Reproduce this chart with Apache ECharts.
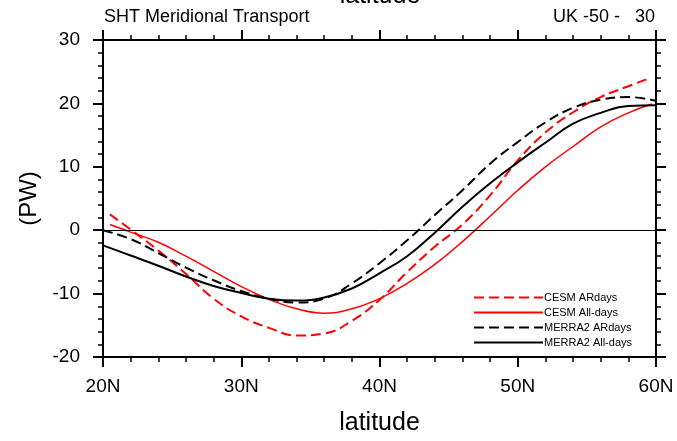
<!DOCTYPE html>
<html>
<head>
<meta charset="utf-8">
<script src="https://cdn.jsdelivr.net/npm/echarts@6/dist/echarts.min.js"></script>
<style>
html,body{margin:0;padding:0;background:#fff;}
#chart{width:677px;height:441px;}
</style>
</head>
<body>
<div id="chart"></div>
<script>
// ---- Data ----
const seriesNames = ['CESM ARdays', 'CESM All-days', 'MERRA2 ARdays', 'MERRA2 All-days'];

const cesmArLat = [20.5, 22, 24, 26, 28, 30, 32, 34, 36, 38, 40, 42, 44, 46, 48, 50, 52, 54, 56, 58, 59.3];
const cesmArVal = [2.5, 0.1, -3.2, -6.9, -10.8, -13.6, -15.4, -16.6, -16.3, -14.3, -11.0, -6.6, -2.6, 0.9, 5.5, 11.0, 15.4, 18.6, 21.0, 22.7, 23.8];

const cesmAllLat = [20.5, 22, 24, 26, 28, 30, 32, 34, 36, 38, 40, 42, 44, 46, 48, 50, 52, 54, 56, 58, 59.7];
const cesmAllVal = [0.9, -0.3, -1.9, -4.1, -6.5, -8.9, -10.9, -12.4, -13.1, -12.4, -10.8, -8.4, -5.4, -1.8, 2.2, 6.3, 10.0, 13.2, 16.3, 18.5, 19.9];

const merraArLat = [20, 22, 24, 26, 28, 30, 32, 34, 36, 38, 40, 42, 44, 46, 48, 50, 52, 54, 56, 58, 60];
const merraArVal = [0.0, -1.4, -3.6, -5.9, -7.9, -9.6, -10.8, -11.4, -10.8, -8.4, -5.2, -1.6, 2.4, 6.3, 10.5, 13.9, 17.0, 19.3, 20.6, 21.0, 20.4];

const merraAllLat = [20, 22, 24, 26, 28, 30, 32, 34, 36, 38, 40, 42, 44, 46, 48, 50, 52, 54, 56, 58, 60];
const merraAllVal = [-2.4, -4.0, -5.6, -7.3, -8.8, -9.9, -10.8, -11.1, -10.6, -9.2, -6.8, -4.1, -0.4, 3.7, 7.4, 10.7, 13.8, 16.8, 18.5, 19.6, 19.7];

const xTicks = [20, 30, 40, 50, 60];   // labelled as 20N ... 60N
const yTicks = [-20, -10, 0, 10, 20, 30];

const titleLeft = 'SHT Meridional Transport';
const titleRight = 'UK -50 -   30';
const xName = 'latitude';
const yName = '(PW)';

// ---- build ----
function pairs(lat, val) { return lat.map((x, i) => [x, val[i]]); }

const FONT = '"Liberation Sans", Arial, Helvetica, sans-serif';
const axisLineStyle = { color: '#000', width: 2 };

function xAx(pos, showLabel) {
  return {
    type: 'value', position: pos,
    min: xTicks[0], max: xTicks[xTicks.length - 1], interval: 10,
    axisLine: { show: true, onZero: false, lineStyle: axisLineStyle },
    axisTick: { show: true, inside: false, length: 10, lineStyle: { color: '#000', width: 2 } },
    minorTick: { show: true, splitNumber: 5, length: 5, lineStyle: { color: '#000', width: 1.5 } },
    splitLine: { show: false },
    axisLabel: { show: showLabel, formatter: v => v + 'N', margin: 20, fontSize: 19, color: '#000', fontFamily: FONT },
    name: showLabel ? xName : '', nameLocation: 'middle', nameGap: 54,
    nameTextStyle: { fontSize: 25, color: '#000', fontFamily: FONT }
  };
}
function yAx(pos, showLabel) {
  return {
    type: 'value', position: pos,
    min: yTicks[0], max: yTicks[yTicks.length - 1], interval: 10,
    axisLine: { show: true, onZero: false, lineStyle: axisLineStyle },
    axisTick: { show: true, inside: false, length: 10, lineStyle: { color: '#000', width: 2 } },
    minorTick: { show: true, splitNumber: 5, length: 5, lineStyle: { color: '#000', width: 1.5 } },
    splitLine: { show: false },
    axisLabel: { show: showLabel, margin: 23, fontSize: 19, color: '#000', fontFamily: FONT },
    name: showLabel ? yName : '', nameLocation: 'middle', nameGap: 61, nameRotate: 90,
    nameTextStyle: { fontSize: 24, color: '#000', fontFamily: FONT }
  };
}

const dash = [10, 5];
const styles = [
  { color: '#ff0000', width: 2, type: dash },
  { color: '#ff0000', width: 1.5, type: 'solid' },
  { color: '#000000', width: 2, type: dash },
  { color: '#000000', width: 2, type: 'solid' }
];
const datas = [pairs(cesmArLat, cesmArVal), pairs(cesmAllLat, cesmAllVal), pairs(merraArLat, merraArVal), pairs(merraAllLat, merraAllVal)];

const series = seriesNames.map((n, i) => ({
  name: n, type: 'line', data: datas[i], xAxisIndex: 0, yAxisIndex: 0,
  smooth: 0.45, symbol: 'none', showSymbol: false,
  lineStyle: styles[i], itemStyle: { color: styles[i].color },
  z: 3
}));
series[0].markLine = {
  silent: true, symbol: ['none', 'none'], label: { show: false },
  lineStyle: { color: '#000', width: 1, type: 'solid' },
  data: [{ yAxis: 0 }], animation: false
};

const chart = echarts.init(document.getElementById('chart'), null, { renderer: 'canvas' });
chart.setOption({
  animation: false,
  backgroundColor: '#fff',
  grid: { left: 103, right: 21, top: 40, bottom: 84, containLabel: false },
  xAxis: [xAx('bottom', true), xAx('top', false)],
  yAxis: [yAx('left', true), yAx('right', false)],
  legend: {
    orient: 'vertical', left: 468, top: 287,
    itemWidth: 69, itemHeight: 10, itemGap: 4,
    itemStyle: { opacity: 0 },
    textStyle: { fontSize: 11, color: '#000', fontFamily: FONT, padding: [0, 0, 0, -4] },
    data: seriesNames
  },
  graphic: [
    { type: 'text', left: 104, top: 8, style: { text: titleLeft, fontSize: 18, fill: '#000', fontFamily: FONT } },
    { type: 'text', right: 22, top: 8, style: { text: titleRight, fontSize: 18, fill: '#000', fontFamily: FONT } },
    { type: 'text', x: 380, y: 9, style: { text: xName, fontSize: 25, fill: '#000', fontFamily: FONT, align: 'center', verticalAlign: 'bottom' } }
  ],
  series: series
});
</script>
</body>
</html>
